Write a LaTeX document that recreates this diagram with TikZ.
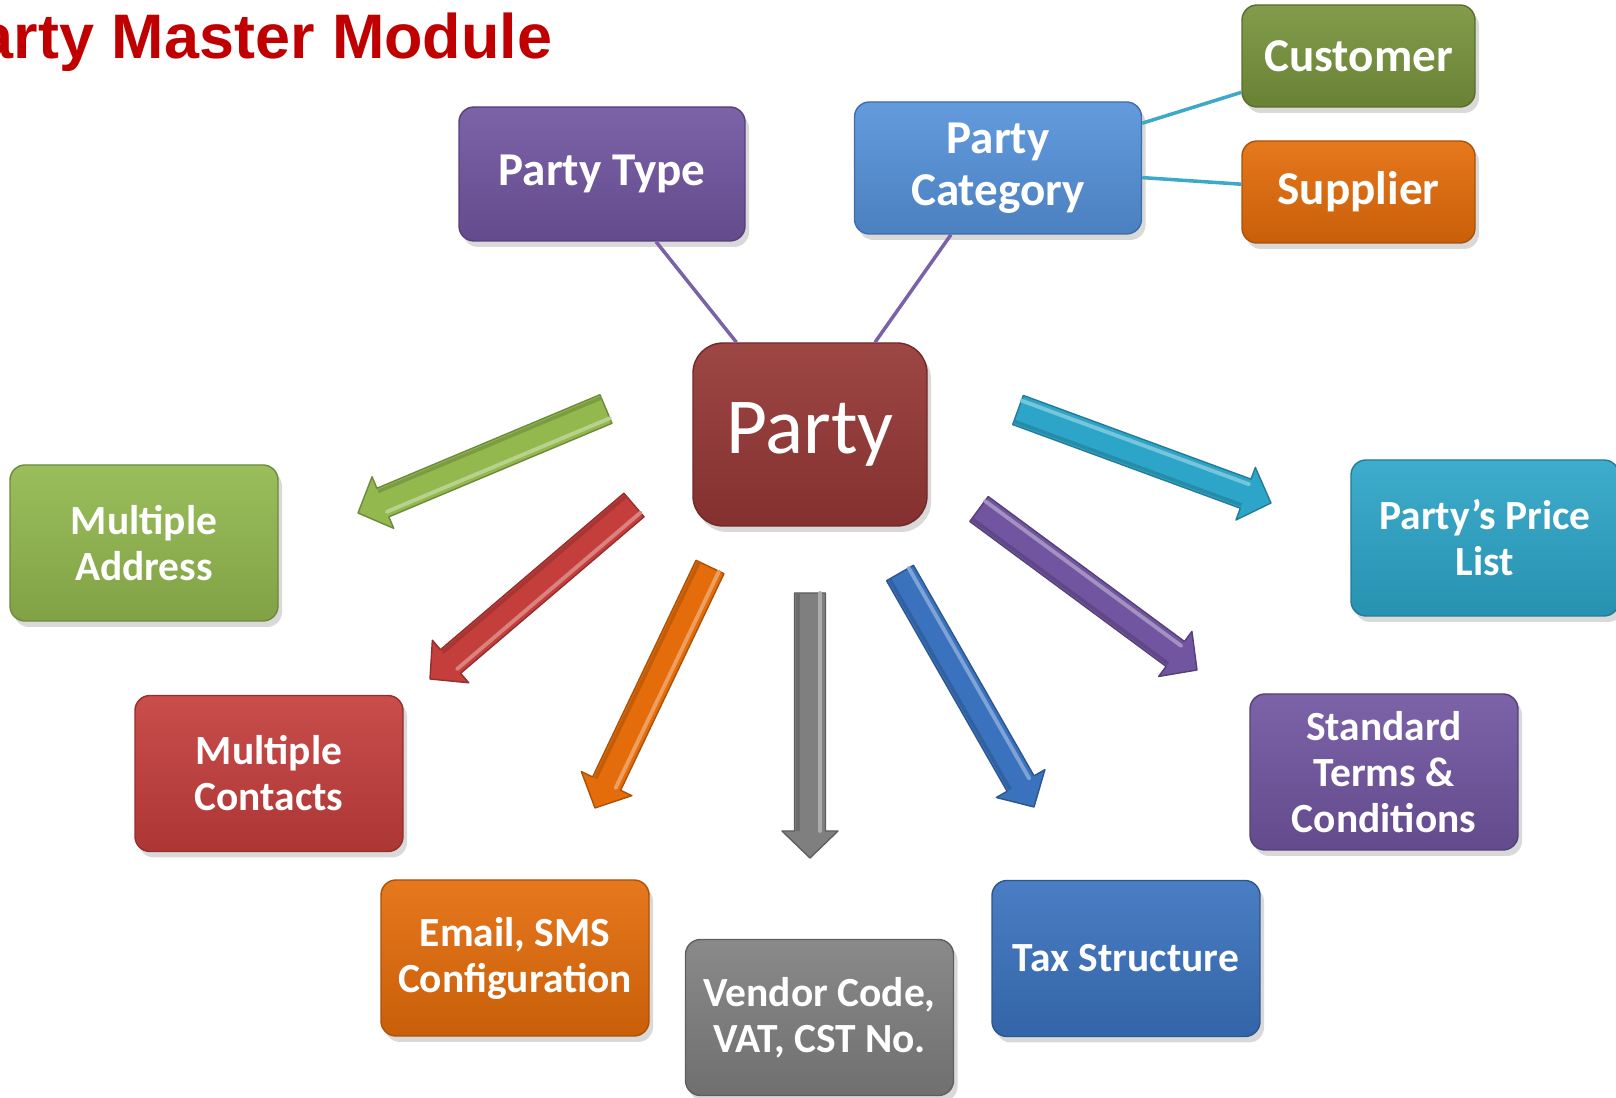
\documentclass[tikz,border=0pt]{standalone}
\usepackage{fontspec}
\setmainfont{Carlito}
\newfontfamily\titlefont{Liberation Sans}
\usetikzlibrary{calc,shadows}

\definecolor{titlered}{HTML}{C00000}
\definecolor{partyred}{HTML}{953735}
\definecolor{typepurple}{HTML}{7155A0}
\definecolor{catblue}{HTML}{5592DA}
\definecolor{custgreen}{HTML}{77933C}
\definecolor{supporange}{HTML}{E46C0A}
\definecolor{addrgreen}{HTML}{92B84E}
\definecolor{contred}{HTML}{C43E3C}
\definecolor{vendorgray}{HTML}{7F7F7F}
\definecolor{taxblue}{HTML}{3A72BE}
\definecolor{termpurple}{HTML}{7155A0}
\definecolor{priceteal}{HTML}{2DA5C8}
\definecolor{linkpurple}{HTML}{7A62A8}
\definecolor{linkteal}{HTML}{3DA9C8}

% block arrow from tail #1 to tip #2, colour #3
\newcommand{\blockarrow}[3]{%
  \coordinate (ah) at ($(#2)!0.27cm!(#1)$);
  \fill[black, opacity=0.15, xshift=0.05cm, yshift=-0.07cm] ($(#1)!0.155cm!90:(#2)$) -- ($(ah)!0.155cm!90:(#2)$) -- ($(ah)!0.28cm!90:(#2)$) -- (#2) -- ($(ah)!0.28cm!-90:(#2)$) -- ($(ah)!0.155cm!-90:(#2)$) -- ($(#1)!0.155cm!-90:(#2)$) -- cycle;
  \filldraw[fill=#3, draw=#3!75!black, line width=0.4pt, line join=round] ($(#1)!0.155cm!90:(#2)$) -- ($(ah)!0.155cm!90:(#2)$) -- ($(ah)!0.28cm!90:(#2)$) -- (#2) -- ($(ah)!0.28cm!-90:(#2)$) -- ($(ah)!0.155cm!-90:(#2)$) -- ($(#1)!0.155cm!-90:(#2)$) -- cycle;
  \draw[#3!65!white, line width=1.1pt, line cap=round] ($(#1)!0.10cm!90:(#2)$) -- ($(ah)!0.10cm!90:(#2)$);
  \draw[#3!85!black, line width=1pt] ($(#1)!0.12cm!-90:(#2)$) -- ($(ah)!0.12cm!-90:(#2)$);
}

\tikzset{
  box/.style={rectangle, rounded corners=0.15cm, draw=#1!75!black, line width=0.4pt,
    top color=#1!92!white, bottom color=#1!88!black, text=white, align=center, inner sep=1pt,
    font=\bfseries\fontsize{11.8}{13.1}\selectfont,
    drop shadow={opacity=0.3, shadow xshift=0.04cm, shadow yshift=-0.06cm}},
  tile/.style={box=#1, minimum width=2.68cm, minimum height=1.56cm},
  bigtext/.style={font=\bfseries\fontsize{13.4}{14.9}\selectfont},
  link/.style={line width=1pt},
}

\begin{document}
\begin{tikzpicture}
    \useasboundingbox (0,0) rectangle (16.16,-10.98);
    \clip (0,0) rectangle (16.16,-10.98);

    % title
    \node[anchor=base east, inner sep=0pt, text=titlered, font=\titlefont\bfseries\fontsize{17.9}{20}\selectfont] (title) at (5.53,-0.59) {Party Master Module};

    % centre and upper boxes
    \node[box=partyred, minimum width=2.34cm, minimum height=1.83cm, rounded corners=0.3cm, font=\fontsize{22.6}{26}\selectfont] (party) at (8.10,-4.345) {Party};
    \node[box=typepurple, bigtext, minimum width=2.86cm, minimum height=1.34cm] (ptype) at (6.02,-1.74) {Party Type};
    \node[box=catblue, bigtext, minimum width=2.87cm, minimum height=1.32cm] (pcat) at (9.98,-1.68) {Party\\Category};
    \node[box=custgreen, bigtext, minimum width=2.33cm, minimum height=1.02cm] (cust) at (13.585,-0.56) {Customer};
    \node[box=supporange, bigtext, minimum width=2.33cm, minimum height=1.02cm] (supp) at (13.585,-1.92) {Supplier};

    % outer ring
    \node[tile=addrgreen] (addr) at (1.44,-5.43) {Multiple\\Address};
    \node[tile=contred] (contacts) at (2.69,-7.735) {Multiple\\Contacts};
    \node[tile=supporange] (email) at (5.15,-9.58) {Email, SMS\\Configuration};
    \node[tile=vendorgray] (vendor) at (8.195,-10.175) {Vendor Code,\\VAT, CST No.};
    \node[tile=taxblue] (tax) at (11.26,-9.585) {Tax Structure};
    \node[tile=termpurple] (terms) at (13.84,-7.72) {Standard\\Terms \&\\Conditions};
    \node[tile=priceteal] (price) at (14.85,-5.38) {Party’s Price\\List};

    % links
    \draw[link, linkpurple] (ptype) -- (party);
    \draw[link, linkpurple] (pcat) -- (party);
    \draw[link, linkteal] (pcat) -- (cust);
    \draw[link, linkteal] (pcat) -- (supp);

    % block arrows
    \coordinate (addr-tail) at (6.06,-4.09);
    \coordinate (addr-tip) at (3.58,-5.13);
    \coordinate (contacts-tail) at (6.34,-5.05);
    \coordinate (contacts-tip) at (4.30,-6.79);
    \coordinate (email-tail) at (7.10,-5.67);
    \coordinate (email-tip) at (5.95,-8.08);
    \coordinate (vendor-tail) at (8.10,-5.93);
    \coordinate (vendor-tip) at (8.10,-8.58);
    \coordinate (tax-tail) at (9.00,-5.73);
    \coordinate (tax-tip) at (10.34,-8.07);
    \coordinate (terms-tail) at (9.79,-5.09);
    \coordinate (terms-tip) at (11.97,-6.70);
    \coordinate (price-tail) at (10.18,-4.10);
    \coordinate (price-tip) at (12.71,-5.03);

    \blockarrow{addr-tail}{addr-tip}{addrgreen}
    \blockarrow{contacts-tail}{contacts-tip}{contred}
    \blockarrow{email-tail}{email-tip}{supporange}
    \blockarrow{vendor-tail}{vendor-tip}{vendorgray}
    \blockarrow{tax-tail}{tax-tip}{taxblue}
    \blockarrow{terms-tail}{terms-tip}{termpurple}
    \blockarrow{price-tail}{price-tip}{priceteal}
\end{tikzpicture}
\end{document}
